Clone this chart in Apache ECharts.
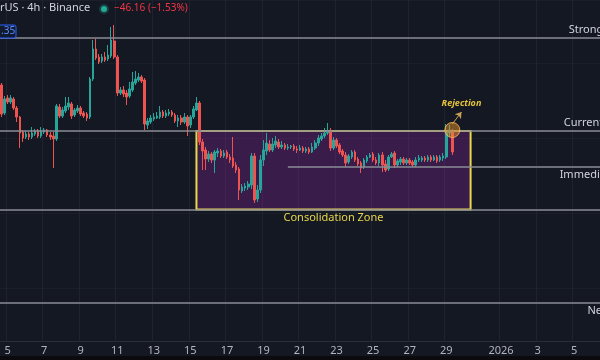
<!DOCTYPE html>
<html><head><meta charset="utf-8">
<script src="https://cdn.jsdelivr.net/npm/echarts@6/dist/echarts.min.js"></script>
<style>html,body{margin:0;padding:0;background:#141823;overflow:hidden;width:600px;height:360px;}#c{width:664px;height:360px;}</style>
</head><body><div id="c"></div>
<script>
// ETH/USD 4h candles, Dec 4 16:00 -> Dec 29 08:00
const opens=[3212,3100,3160,3144,3156,3120,3084,3024,3004,3016,3004,3016,3028,3008,3024,3032,3012,3008,2996,3124,
3088,3108,3124,3136,3092,3108,3120,3100,3096,3084,3236,3356,3324,3308,3324,3316,3328,3388,3324,3180,
3192,3180,3168,3192,3220,3232,3244,3232,3052,3064,3076,3080,3084,3104,3088,3096,3104,3092,3068,3080,
3064,3084,3052,3084,3112,3140,2984,2952,2916,2936,2912,2940,2948,2928,2944,2924,2920,2892,2876,2788,
2800,2804,2812,2928,2756,2792,2912,2948,2976,2952,2972,2984,2964,2972,2960,2964,2968,2956,2952,2960,
2948,2956,2944,2960,2980,2996,3008,3020,3028,2960,2992,2972,2948,2932,2904,2924,2944,2916,2900,2884,
2908,2924,2936,2912,2900,2932,2896,2876,2924,2940,2892,2904,2916,2900,2912,2904,2892,2912,2912,2920,
2912,2924,2912,2924,2912,2920,2924,3020,3028];
const highs=[3220,3168,3172,3172,3164,3128,3088,3032,3028,3024,3044,3036,3036,3044,3040,3036,3024,3024,3136,3136,
3124,3164,3164,3144,3120,3132,3128,3108,3104,3244,3392,3396,3336,3336,3344,3372,3444,3452,3332,3204,
3208,3192,3224,3264,3268,3260,3252,3240,3080,3092,3100,3104,3128,3112,3112,3116,3112,3100,3092,3092,
3100,3092,3092,3128,3164,3148,2996,2964,2948,2944,2952,2960,2956,2952,2952,2936,3004,2904,2884,2816,
2820,2828,2940,2940,2812,2932,2992,3020,2992,3000,3008,2996,2988,2980,2976,2972,2976,2968,2972,2968,
2964,2964,2980,2992,3012,3020,3040,3060,3040,3004,3000,2980,2956,2944,2936,2952,2952,2924,2908,2920,
2932,2940,2944,2924,2940,2944,2912,2932,2944,2948,2916,2924,2924,2920,2920,2912,2924,2932,2928,2928,
2932,2932,2932,2932,2932,2940,3056,3052,3036];
const lows=[3084,3092,3136,3136,3112,3064,2960,2984,2996,2992,2996,3008,3000,3000,3016,3004,2992,2880,2988,3080,
3080,3100,3112,3076,3084,3100,3088,3080,3068,3076,3228,3312,3296,3300,3304,3308,3320,3316,3168,3172,
3164,3132,3160,3184,3212,3224,3220,3032,3036,3056,3068,3076,3076,3080,3080,3088,3084,3060,3044,3052,
3056,3008,3040,3076,3108,2972,2872,2872,2904,2900,2860,2924,2920,2920,2916,2900,2880,2860,2752,2780,
2788,2792,2796,2740,2744,2780,2888,2932,2944,2944,2960,2956,2956,2952,2952,2956,2948,2940,2948,2940,
2940,2936,2940,2952,2968,2988,3000,3012,2948,2952,2960,2936,2924,2884,2896,2916,2904,2888,2860,2876,
2900,2920,2904,2892,2888,2864,2864,2868,2920,2880,2884,2892,2892,2892,2892,2884,2884,2904,2904,2904,
2904,2904,2908,2900,2904,2908,2916,3004,2932];
const closes=[3096,3156,3144,3160,3120,3084,3020,3000,3016,3004,3020,3028,3008,3028,3032,3012,3004,2996,3128,3088,
3112,3128,3140,3088,3112,3120,3096,3088,3080,3236,3356,3320,3304,3324,3312,3332,3392,3324,3180,3192,
3176,3164,3196,3224,3236,3244,3228,3056,3068,3080,3084,3088,3104,3088,3100,3104,3092,3068,3080,3064,
3084,3048,3084,3116,3140,2984,2948,2916,2936,2912,2944,2948,2928,2940,2924,2912,2888,2872,2792,2804,
2808,2816,2928,2752,2792,2912,2952,2980,2952,2976,2988,2964,2972,2960,2964,2968,2956,2952,2960,2948,
2956,2944,2964,2980,3000,3008,3020,3028,2960,2992,2968,2944,2932,2900,2928,2944,2912,2896,2880,2912,
2924,2932,2912,2900,2932,2892,2872,2924,2936,2892,2908,2916,2900,2912,2900,2892,2912,2920,2920,2912,
2924,2912,2924,2908,2924,2928,3024,3032,2944];

const tickDates=['12-05','12-07','12-09','12-11','12-13','12-15','12-17','12-19','12-21','12-23','12-25','12-27','12-29','01-01','01-03','01-05'];
const tickLabels=['5','7','9','11','13','15','17','19','21','23','25','27','29','2026','3','5'];

const levelNames=['Strong Resistance','Current Resistance','Immediate Support','','Next Support'];
const levelValues=[3400,3028,2884,2714,2340];

const zoneTop=3028, zoneBottom=2714;

// time slots (4h) from Dec 4 16:00 UTC, extending past the last candle
const startTime=Date.UTC(2025,11,4,16);
const slotCount=218;
const pad=n=>String(n).padStart(2,'0');
const categories=[];
for(let i=0;i<slotCount;i++){const d=new Date(startTime+i*4*3600e3);categories.push(pad(d.getUTCMonth()+1)+'-'+pad(d.getUTCDate())+' '+pad(d.getUTCHours())+':00');}
const zoneStart=categories[64], zoneEnd=categories[154], supportStart=categories[94], lastCat=categories[slotCount-1];

const isTick=(idx,val)=>{const v=categories[idx]||val;return v.endsWith('00:00')&&tickDates.includes(v.slice(0,5));};
const labelFor=v=>{const k=tickDates.indexOf(v.slice(0,5));return (k>=0&&v.endsWith('00:00'))?tickLabels[k]:'';};

const candles=opens.map((o,i)=>[o,closes[i],lows[i],highs[i]]);
const FONT='Noto Sans';
const UP='#26a69a', DOWN='#ef5350';

const lineLabel=(pos,extra)=>Object.assign({show:true,position:pos,color:'#d1d4dc',fontSize:11,fontFamily:FONT,distance:pos==='insideEndTop'?3:2,formatter:p=>p.name},extra||{});

const chart=echarts.init(document.getElementById('c'),null,{renderer:'canvas'});
chart.setOption({
  backgroundColor:'#141823',
  animation:false,
  grid:{left:0,right:0,top:0,bottom:19},
  xAxis:{type:'category',data:categories,boundaryGap:true,
    axisLine:{show:true,lineStyle:{color:'#2a2e39'}},
    axisTick:{show:false},
    axisLabel:{interval:isTick,formatter:(v)=>labelFor(v),color:'#b2b5be',fontSize:11,margin:4,fontFamily:FONT},
    splitLine:{show:true,interval:isTick,lineStyle:{color:'#1f2330',width:1}}},
  yAxis:{type:'value',min:2188,max:3552,position:'right',scale:true,
    axisLabel:{show:false},axisLine:{show:false},axisTick:{show:false},
    splitLine:{show:true,lineStyle:{color:'#1b1f2a'}}},
  graphic:[
    {type:'rect',shape:{x:0,y:356,width:664,height:4},style:{fill:'#0b0b0d'},z:100},
    {type:'text',left:0,top:2,style:{text:'rUS · 4h · Binance',fill:'#d1d4dc',font:'11px "Noto Sans"'},z:100},
    {type:'circle',shape:{cx:104,cy:9,r:5},style:{fill:'rgba(34,171,148,0.25)'},z:100},
    {type:'circle',shape:{cx:104,cy:9,r:3},style:{fill:'#22ab94'},z:101},
    {type:'text',left:114,top:3,style:{text:'−46.16 (−1.53%)',fill:'#f23645',font:'10px "Noto Sans"'},z:100},
    {type:'rect',shape:{x:-4,y:25,width:20,height:13,r:2},style:{fill:'#111a2e',stroke:'#2962ff',lineWidth:1},z:100},
    {type:'text',left:1,top:26,style:{text:'.35',fill:'#5b8cff',font:'10px "Noto Sans"'},z:101}
  ],
  series:[
    {type:'candlestick',data:candles,barWidth:'68%',z:2,
      itemStyle:{color:UP,color0:DOWN,borderColor:UP,borderColor0:DOWN,borderWidth:1},
      markLine:{silent:true,symbol:['none','none'],
        lineStyle:{color:'#8a8d96',width:1.5,type:'solid'},
        data:[
          {name:levelNames[0],yAxis:levelValues[0],label:lineLabel('insideEndTop')},
          {name:levelNames[1],yAxis:levelValues[1],label:lineLabel('insideEndTop')},
          [{name:levelNames[2],coord:[supportStart,levelValues[2]],label:lineLabel('insideEndBottom')},{coord:[lastCat,levelValues[2]]}],
          {name:levelNames[3],yAxis:levelValues[3],label:{show:false}},
          {name:levelNames[4],yAxis:levelValues[4],label:lineLabel('insideEndBottom',{padding:[0,6,0,0]})}
        ]}
    },
    {type:'line',data:[],z:5,
      markArea:{silent:true,
        itemStyle:{color:'rgba(156,39,176,0.28)',borderColor:'#e9d64c',borderWidth:2},
        label:{show:true,position:'bottom',distance:2,color:'#e9d64c',fontSize:11,fontFamily:FONT},
        data:[[{name:'Consolidation Zone',coord:[zoneStart,zoneTop]},{coord:[zoneEnd,zoneBottom]}]]},
      markLine:{silent:true,symbol:['none','arrow'],symbolSize:6,
        lineStyle:{color:'#c9a052',width:1,type:'solid'},label:{show:false},
        data:[[{coord:[categories[148],3056]},{coord:[categories[151],3104]}]]},
      markPoint:{silent:true,
        data:[
          {coord:[categories[148],3032],symbol:'circle',symbolSize:15,
            itemStyle:{color:'rgba(230,145,40,0.5)',borderColor:'rgba(255,190,90,0.8)',borderWidth:1},label:{show:false}},
          {coord:[categories[151],3140],symbol:'circle',symbolSize:1,itemStyle:{color:'rgba(0,0,0,0)'},
            label:{show:true,position:'inside',formatter:'Rejection',color:'#e6c43a',fontSize:9,fontStyle:'italic',fontWeight:'bold',fontFamily:FONT}}
        ]}
    }
  ]
});
</script></body></html>
